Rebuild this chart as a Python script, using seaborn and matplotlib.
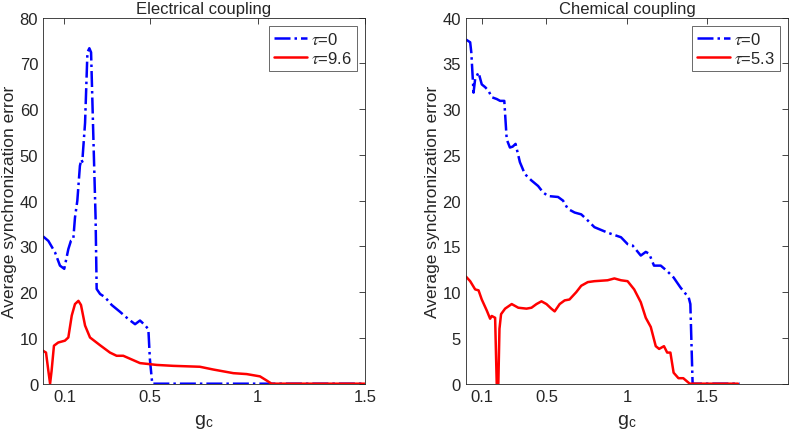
import numpy as np
import pandas as pd
import matplotlib
matplotlib.use("Agg")
import matplotlib.pyplot as plt
import seaborn as sns

# electrical coupling, tau = 0
elec_g0 = [0.0, 0.025, 0.056, 0.079, 0.099, 0.118, 0.130, 0.141, 0.149, 0.160, 0.172, 0.179, 0.183,
           0.196, 0.207, 0.216, 0.224, 0.234, 0.245, 0.250, 0.266, 0.289, 0.320, 0.359, 0.398, 0.429,
           0.452, 0.475, 0.491, 0.498, 0.509, 1.0, 1.5]
elec_e0 = [32.2, 31.2, 28.7, 25.8, 25.1, 29.4, 31.2, 31.5, 36.3, 40.0, 47.6, 49.0, 48.5,
           57.0, 72.4, 73.3, 72.4, 55.0, 36.3, 20.7, 19.6, 18.9, 17.2, 15.7, 14.1, 13.0,
           13.8, 12.8, 11.9, 5.4, 0.0, 0.0, 0.0]

# electrical coupling, tau = 9.6
elec_g1 = [0.0, 0.014, 0.025, 0.033, 0.040, 0.051, 0.071, 0.102, 0.118, 0.134, 0.149, 0.165, 0.177,
           0.196, 0.219, 0.266, 0.312, 0.343, 0.374, 0.452, 0.530, 0.607, 0.669, 0.731, 0.793,
           0.887, 0.949, 1.011, 1.042, 1.065, 1.5]
elec_e1 = [7.2, 6.8, 2.8, 0.0, 2.8, 8.3, 9.0, 9.4, 10.1, 14.9, 17.4, 18.1, 17.2,
           12.7, 10.1, 8.4, 6.8, 6.1, 6.1, 4.5, 4.1, 3.9, 3.8, 3.7, 3.1,
           2.3, 2.1, 1.6, 0.7, 0.0, 0.0]

# chemical coupling, tau = 0
chem_g0 = [0.0, 0.026, 0.033, 0.047, 0.057, 0.078, 0.098, 0.119, 0.140, 0.160, 0.191, 0.212, 0.238,
           0.253, 0.273, 0.290, 0.308, 0.335, 0.366, 0.407, 0.448, 0.479, 0.510, 0.572, 0.603,
           0.633, 0.675, 0.716, 0.747, 0.798, 0.880, 0.963, 1.004, 1.035, 1.086, 1.117, 1.138,
           1.168, 1.210, 1.250, 1.290, 1.333, 1.384, 1.394, 1.408, 1.700]
chem_e0 = [37.6, 37.3, 36.2, 31.8, 33.3, 34.0, 32.7, 32.4, 32.0, 31.3, 31.1, 30.9, 30.9,
           26.7, 25.8, 25.9, 26.2, 24.2, 22.9, 22.2, 21.6, 20.9, 20.5, 20.4, 20.0,
           19.1, 18.7, 18.5, 18.0, 17.1, 16.5, 16.0, 15.25, 15.1, 14.0, 14.4, 14.2,
           12.9, 12.9, 12.3, 11.6, 10.5, 9.4, 8.7, 0.0, 0.0]

# chemical coupling, tau = 5.3
chem_g1 = [0.0, 0.026, 0.057, 0.078, 0.098, 0.129, 0.150, 0.160, 0.181, 0.191, 0.201, 0.208, 0.218,
           0.243, 0.284, 0.325, 0.376, 0.407, 0.438, 0.469, 0.500, 0.530, 0.551, 0.582, 0.613,
           0.643, 0.685, 0.716, 0.757, 0.798, 0.880, 0.922, 0.963, 1.004, 1.045, 1.086, 1.117,
           1.148, 1.179, 1.200, 1.230, 1.250, 1.270, 1.290, 1.320, 1.350, 1.370, 1.390, 1.690]
chem_e1 = [11.7, 11.2, 10.3, 10.2, 9.2, 8.0, 7.1, 7.4, 7.2, 0.0, 0.0, 6.0, 7.6,
           8.2, 8.7, 8.3, 8.2, 8.3, 8.7, 9.0, 8.7, 8.2, 7.9, 8.7, 9.1,
           9.2, 10.0, 10.7, 11.1, 11.2, 11.3, 11.5, 11.3, 11.2, 10.3, 8.9, 7.2,
           6.2, 4.1, 3.8, 4.1, 3.4, 3.4, 1.2, 0.6, 0.6, 0.3, 0.0, 0.0]

xticks = [0.1, 0.5, 1, 1.5]
xtick_labels = ["0.1", "0.5", "1", "1.5"]

sns.set_style("white")
plt.rcParams["font.family"] = ["Liberation Sans", "DejaVu Sans"]
plt.rcParams["mathtext.fontset"] = "stix"

fig = plt.figure(figsize=(7.89, 4.39), dpi=100)
ax1 = fig.add_axes([0.0545, 0.1237, 0.408, 0.834])
ax2 = fig.add_axes([0.5906, 0.1237, 0.408, 0.834])

panels = [
    (ax1, elec_g0, elec_e0, elec_g1, elec_e1, "9.6", "Electrical coupling", (0, 1.5), 80, 10),
    (ax2, chem_g0, chem_e0, chem_g1, chem_e1, "5.3", "Chemical coupling", (0, 2.0), 40, 5),
]

for ax, g0, e0, g1, e1, tau, title, xlim, ymax, ystep in panels:
    d0 = pd.DataFrame({"g": g0, "err": e0})
    d1 = pd.DataFrame({"g": g1, "err": e1})
    sns.lineplot(data=d0, x="g", y="err", ax=ax, color="#0000ff", lw=1.8,
                 linestyle="-.", label=r"$\tau$=0", estimator=None, sort=False)
    sns.lineplot(data=d1, x="g", y="err", ax=ax, color="#ff0000", lw=1.8,
                 label=r"$\tau$=" + tau, estimator=None, sort=False)
    ax.set_xlim(*xlim)
    ax.set_ylim(0, ymax)
    ax.set_xticks(xticks)
    ax.set_xticklabels(xtick_labels)
    ax.set_yticks(np.arange(0, ymax + 1, ystep))
    ax.tick_params(direction="in", top=True, right=True, labelsize=12,
                   colors="#262626", length=4, width=0.6)
    for s in ax.spines.values():
        s.set_color("#262626")
        s.set_linewidth(0.6)
    ax.set_title(title, fontsize=12, pad=3)
    ax.set_xlabel(r"g$_\mathregular{c}$", fontsize=14, labelpad=6)
    ax.set_ylabel("Average synchronization error", fontsize=12.5, labelpad=2)
    leg = ax.legend(loc="upper right", fontsize=12, frameon=True, fancybox=False,
                    handlelength=2.0, borderaxespad=0.5, handletextpad=0.2,
                    borderpad=0.3, labelspacing=0.2)
    leg.get_frame().set_edgecolor("#262626")
    leg.get_frame().set_linewidth(0.6)

fig.savefig("out.png", dpi=100)
